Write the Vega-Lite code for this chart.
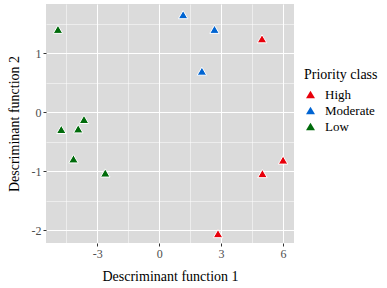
{
  "$schema": "https://vega.github.io/schema/vega-lite/v6.json",
  "width": 248,
  "height": 239,
  "autosize": "none",
  "padding": {"left": 46, "top": 4, "right": 93, "bottom": 45},
  "background": "white",
  "config": {
    "view": {"fill": "#DBDBDB", "stroke": null},
    "font": "Liberation Serif",
    "axis": {"domain": false, "gridColor": "white", "tickColor": "#333333", "tickSize": 3, "labelColor": "#4d4d4d", "labelFont": "Liberation Serif", "labelFontSize": 12, "titleFont": "Liberation Serif", "titleFontSize": 14, "titleFontWeight": "normal", "titleColor": "black"},
    "legend": {"titleFont": "Times New Roman", "labelFont": "Times New Roman", "titleFontSize": 14, "labelFontSize": 13, "titleFontWeight": "normal", "titleColor": "black", "labelColor": "black"}
  },
  "data": {
    "values": [
      {"f1": -4.90, "f2": 1.41, "cls": "Low"},
      {"f1": -4.74, "f2": -0.29, "cls": "Low"},
      {"f1": -3.92, "f2": -0.28, "cls": "Low"},
      {"f1": -3.64, "f2": -0.12, "cls": "Low"},
      {"f1": -4.15, "f2": -0.79, "cls": "Low"},
      {"f1": -2.61, "f2": -1.03, "cls": "Low"},
      {"f1": 1.16, "f2": 1.66, "cls": "Moderate"},
      {"f1": 2.68, "f2": 1.41, "cls": "Moderate"},
      {"f1": 2.07, "f2": 0.70, "cls": "Moderate"},
      {"f1": 4.98, "f2": 1.25, "cls": "High"},
      {"f1": 6.00, "f2": -0.81, "cls": "High"},
      {"f1": 5.00, "f2": -1.04, "cls": "High"},
      {"f1": 2.85, "f2": -2.06, "cls": "High"}
    ]
  },
  "mark": {"type": "point", "shape": "triangle-up", "filled": true, "size": 90, "stroke": "white", "strokeWidth": 1, "opacity": 1},
  "encoding": {
    "x": {
      "field": "f1", "type": "quantitative",
      "scale": {"domain": [-5.48, 6.53], "nice": false, "zero": false},
      "axis": {
        "title": "Descriminant function 1",
        "values": [-4.5, -3, -1.5, 0, 1.5, 3, 4.5, 6],
        "labelExpr": "datum.value % 3 === 0 ? '' + datum.value : ''",
        "gridWidth": {"condition": {"test": "datum.value % 3 === 0", "value": 1}, "value": 0.5},
        "tickOpacity": {"condition": {"test": "datum.value % 3 === 0", "value": 1}, "value": 0},
        "labelPadding": 2,
        "titlePadding": 10
      }
    },
    "y": {
      "field": "f2", "type": "quantitative",
      "scale": {"domain": [-2.22, 1.84], "nice": false, "zero": false},
      "axis": {
        "title": "Descriminant function 2",
        "values": [-2, -1.5, -1, -0.5, 0, 0.5, 1, 1.5],
        "labelExpr": "datum.value % 1 === 0 ? '' + datum.value : ''",
        "gridWidth": {"condition": {"test": "datum.value % 1 === 0", "value": 1}, "value": 0.5},
        "tickOpacity": {"condition": {"test": "datum.value % 1 === 0", "value": 1}, "value": 0},
        "labelPadding": 2,
        "titlePadding": 10
      }
    },
    "color": {
      "field": "cls", "type": "nominal",
      "scale": {"domain": ["High", "Moderate", "Low"], "range": ["#E8000B", "#0064D2", "#006B0B"]},
      "legend": {
        "title": "Priority class",
        "orient": "none", "legendX": 258, "legendY": 64,
        "symbolType": "triangle-up", "symbolSize": 80, "symbolStrokeWidth": 0,
        "rowPadding": 2, "titlePadding": 6, "labelOffset": 8
      }
    }
  }
}
